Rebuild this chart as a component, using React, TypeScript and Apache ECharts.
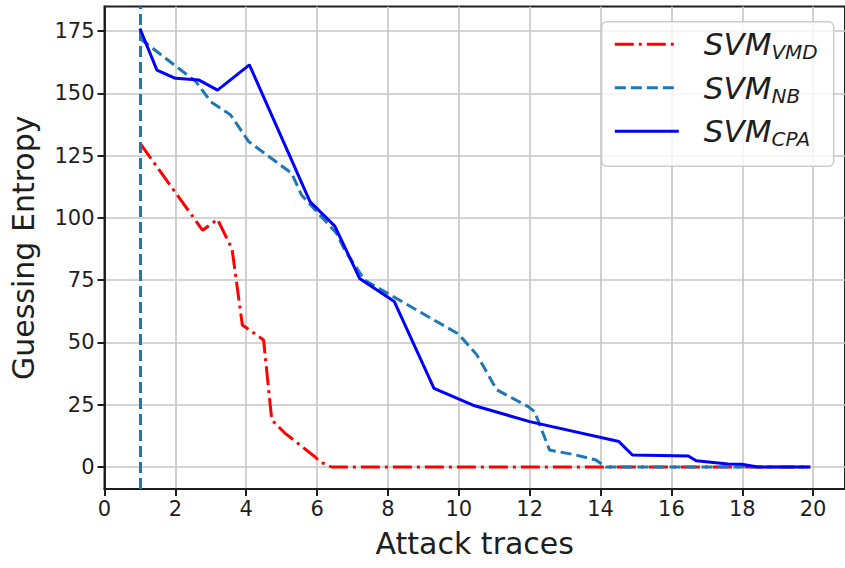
import React, { useEffect, useRef } from "react";
import * as echarts from "echarts";

// Guessing entropy vs. number of attack traces for three SVM variants
const vmdX = [1.0, 2.77, 3.19, 3.6, 3.89, 4.49, 4.72, 5.1, 5.94, 6.08, 6.4, 19.92];
const vmdY = [130, 95, 99.4, 87.5, 57, 51, 18.9, 13.5, 4.1, 2.1, 0, 0];

const nbX = [1.0, 2.58, 3.0, 3.56, 4.07, 5.28, 5.56, 6.55, 6.78, 7.34, 7.99, 9.95, 10.14, 10.51, 11.07, 11.96, 12.14, 12.56, 13.31, 13.87, 14.15, 19.92];
const nbY = [172, 154.7, 146.6, 141.3, 130.6, 117.9, 109.2, 93.8, 87.1, 75, 69.7, 53.7, 51, 45, 31, 24.2, 22.2, 6.8, 4.8, 2.8, 0, 0];

const cpaX = [1.0, 1.48, 2.0, 2.67, 3.19, 4.09, 5.8, 6.5, 7.2, 8.18, 9.3, 10.4, 12.0, 14.52, 14.9, 16.48, 16.7, 17.6, 17.98, 18.44, 19.92];
const cpaY = [176, 159.3, 156, 155.3, 151.3, 161.4, 106.5, 96.7, 75.7, 66.4, 31.6, 24.8, 18.2, 10.2, 4.8, 4.4, 2.5, 1.2, 1.1, 0, 0];

const seriesNames = ["VMD", "NB", "CPA"];
const xTicks = [0, 2, 4, 6, 8, 10, 12, 14, 16, 18, 20];
const yTicks = [0, 25, 50, 75, 100, 125, 150, 175];
const firstTraceX = 1;

const FONT = "DejaVu Sans";
const INK = "#1e1e1e";
const GRID = "#c6c6c6";
const CLEAR = "rgba(0,0,0,0)";

const pairs = (xs: number[], ys: number[]) => xs.map((x, i) => [x, ys[i]]);

export default function App() {
  const ref = useRef<HTMLDivElement>(null);

  useEffect(() => {
    if (!ref.current) return;
    const chart = echarts.init(ref.current, null, { renderer: "svg" });

    const axisCommon = {
      axisLine: { show: true, onZero: false, lineStyle: { color: INK, width: 2 } },
      axisTick: { show: true, length: 7, lineStyle: { color: INK, width: 2 } },
      splitLine: { show: true, lineStyle: { color: GRID, width: 1.6 } },
      nameTextStyle: { fontFamily: FONT, fontSize: 30, color: INK },
    };

    chart.setOption({
      animation: false,
      backgroundColor: "#ffffff",
      grid: {
        left: 104.5,
        top: 6.6,
        width: 746.5,
        height: 482.3,
        show: true,
        borderColor: INK,
        borderWidth: 2,
        containLabel: false,
      },
      xAxis: {
        type: "value",
        min: 0,
        max: 20.9,
        name: "Attack traces",
        nameLocation: "middle",
        nameGap: 40,
        ...axisCommon,
        axisTick: { ...axisCommon.axisTick, customValues: xTicks },
        splitLine: { ...axisCommon.splitLine, customValues: xTicks },
        axisLabel: {
          customValues: xTicks,
          fontFamily: FONT,
          fontSize: 21,
          color: INK,
          margin: 10,
        },
      },
      yAxis: {
        type: "value",
        min: -8.8,
        max: 184.8,
        name: "Guessing Entropy",
        nameLocation: "middle",
        nameGap: 66,
        ...axisCommon,
        axisTick: { ...axisCommon.axisTick, customValues: yTicks },
        splitLine: { ...axisCommon.splitLine, customValues: yTicks },
        axisLabel: {
          customValues: yTicks,
          fontFamily: FONT,
          fontSize: 21,
          color: INK,
          margin: 10,
        },
      },
      legend: {
        orient: "vertical",
        left: 601.7,
        top: 21.7,
        padding: [7, 16, 17, 11.6],
        itemWidth: 64,
        itemHeight: 14,
        itemGap: 10,
        backgroundColor: "rgba(255,255,255,0.8)",
        borderColor: "#cccccc",
        borderWidth: 1.5,
        borderRadius: 5,
        itemStyle: { color: CLEAR, borderColor: CLEAR, borderWidth: 0, opacity: 0 },
        lineStyle: { width: 3 },
        data: seriesNames,
        formatter: (name: string) => `{m|SVM}{s|${name}}`,
        textStyle: {
          rich: {
            m: {
              fontFamily: FONT,
              fontStyle: "italic",
              fontSize: 31,
              lineHeight: 36,
              color: INK,
              padding: [0, 0, 0, 20],
            },
            s: {
              fontFamily: FONT,
              fontStyle: "italic",
              fontSize: 20,
              lineHeight: 18,
              verticalAlign: "bottom",
              color: INK,
            },
          },
        },
      },
      series: [
        {
          name: seriesNames[0],
          type: "line",
          symbol: "none",
          data: pairs(vmdX, vmdY),
          lineStyle: { color: "#ff0000", width: 3, type: [19, 5, 3, 5], cap: "butt" },
          itemStyle: { color: "#ff0000" },
          z: 3,
        },
        {
          name: seriesNames[1],
          type: "line",
          symbol: "none",
          data: pairs(nbX, nbY),
          lineStyle: { color: "#1f77b4", width: 3, type: [11, 5], cap: "butt" },
          itemStyle: { color: "#1f77b4" },
          markLine: {
            silent: true,
            symbol: ["none", "none"],
            label: { show: false },
            lineStyle: { color: "#1f77b4", width: 3, type: [11, 5] },
            data: [{ xAxis: firstTraceX }],
          },
          z: 4,
        },
        {
          name: seriesNames[2],
          type: "line",
          symbol: "none",
          data: pairs(cpaX, cpaY),
          lineStyle: { color: "#0000ff", width: 3, type: "solid" },
          itemStyle: { color: "#0000ff" },
          z: 5,
        },
      ],
    });

    return () => chart.dispose();
  }, []);

  return (
    <div
      ref={ref}
      style={{ position: "fixed", left: 0, top: 0, width: 845, height: 568 }}
    />
  );
}
